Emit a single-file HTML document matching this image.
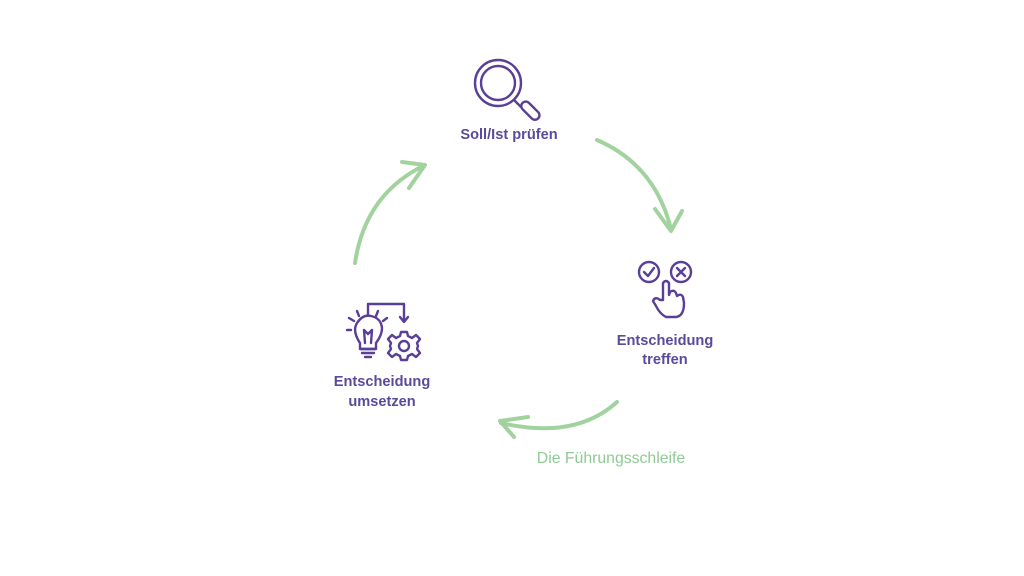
<!DOCTYPE html>
<html><head><meta charset="utf-8"><style>
html,body{margin:0;padding:0;background:#fff;}
svg{display:block}
</style></head><body>
<svg width="1024" height="576" viewBox="0 0 1024 576" xmlns="http://www.w3.org/2000/svg">
<rect width="1024" height="576" fill="#fff"/>
<g fill="none" stroke="#a2d39f" stroke-width="4" stroke-linecap="round" stroke-linejoin="round">
  <path d="M355 263 Q365 195 423 166"/>
  <path d="M402 162 L425 165 L409 188"/>
  <path d="M597 140 Q655 165 671 229"/>
  <path d="M655 209 L671 231 L682 211"/>
  <path d="M617 402 Q575 440 501 423"/>
  <path d="M528 417 L500 421 L514 437"/>
</g>
<g fill="none" stroke="#5a3f96" stroke-width="2.4" stroke-linecap="round" stroke-linejoin="round">
  <circle cx="498" cy="83" r="23"/>
  <circle cx="498" cy="83" r="17"/>
  <path d="M514 100 L521 107"/>
  <rect x="526" y="100" width="9" height="22" rx="4.5" transform="rotate(-45 530 111)"/>
  <circle cx="649" cy="272" r="10"/>
  <path d="M644 272 L648 276 L654 268"/>
  <circle cx="681" cy="272" r="10"/>
  <path d="M677 268 L685 276 M685 268 L677 276"/>
  <path d="M663 300 L663 283 Q666 279 669 283 L669 295 L670 292 Q674 289 676 293 L677 296 Q681 293 683 297 L684 303 Q684 316 676 317 L666 317 Q660 314 656 306 L653 301 Q655 296 660 300 Z"/>
  <path d="M360 343 Q352 331 357 323 Q363 314 371 316 Q381 318 382 328 Q382 335 376 343 L376 349 L360 349 Z"/>
  <path d="M361 349 L375 349 M362 353 L374 353 M365 357 L371 357"/>
  <path d="M365 343 L364 330 M371 343 L372 330 M364 330 L368 334 L372 330"/>
  <path d="M349 318 L354 321 M357 311 L359 316 M378 311 L376 316 M387 318 L383 321 M347 330 L351 330"/>
  <path d="M368 314 L368 304 L404 304 L404 321 M400 317 L404 322 L408 317"/>
  <circle cx="404" cy="346" r="5"/>
  <path d="M401 332 L407 332 L408 336 L412 338 L416 335 L420 339 L417 343 L418 346 L417 349 L420 353 L416 357 L412 354 L408 356 L407 360 L401 360 L400 356 L396 354 L392 357 L388 353 L391 349 L390 346 L391 343 L388 339 L392 335 L396 338 L400 336 Z"/>
</g>
<g font-family="Liberation Sans, sans-serif" font-weight="bold" font-size="14.6" fill="#5b4a9a" text-anchor="middle">
  <text x="509" y="139">Soll/Ist prüfen</text>
  <text x="665" y="345">Entscheidung</text>
  <text x="665" y="364">treffen</text>
  <text x="382" y="386">Entscheidung</text>
  <text x="382" y="406">umsetzen</text>
</g>
<text x="611" y="463" font-family="Liberation Sans, sans-serif" font-size="15.8" fill="#8fca95" text-anchor="middle">Die Führungsschleife</text>
</svg>
</body></html>
